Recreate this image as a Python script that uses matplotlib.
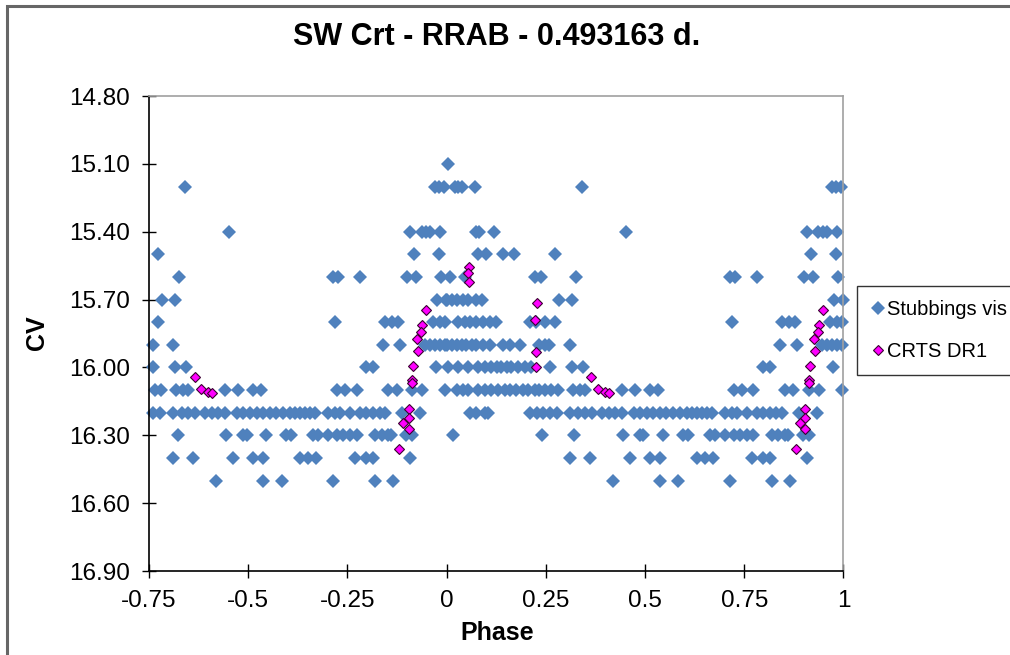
import numpy as np
import matplotlib
matplotlib.use("Agg")
import matplotlib.pyplot as plt
from matplotlib.patches import Rectangle

plt.rcParams['font.family'] = ['Liberation Sans', 'DejaVu Sans']

# Stubbings visual estimates, folded phase 0..1, one list per magnitude step
vis_1510 = [0.003]
vis_1520 = [0.021, 0.029, 0.040, 0.072, 0.342, 0.972, 0.982, 0.993]
vis_1540 = [0.075, 0.081, 0.119, 0.452, 0.908, 0.937, 0.948, 0.958, 0.983]
vis_1550 = [0.079, 0.100, 0.141, 0.171, 0.272, 0.918, 0.981]
vis_1560 = [0.008, 0.046, 0.222, 0.239, 0.326, 0.714, 0.727, 0.781, 0.901, 0.924, 0.987]
vis_1570 = [0.0, 0.013, 0.027, 0.042, 0.054, 0.074, 0.090, 0.282, 0.316, 0.975, 0.999]
vis_1580 = [0.029, 0.046, 0.059, 0.075, 0.092, 0.109, 0.124, 0.209, 0.226, 0.247,
            0.272, 0.719, 0.845, 0.862, 0.878, 0.966, 0.983, 0.996]
vis_1590 = [0.0, 0.013, 0.025, 0.038, 0.050, 0.063, 0.075, 0.092, 0.109, 0.142,
            0.159, 0.184, 0.234, 0.247, 0.259, 0.310, 0.840, 0.883, 0.945, 0.958,
            0.971, 0.983, 0.996]
vis_1600 = [0.004, 0.029, 0.054, 0.079, 0.096, 0.113, 0.126, 0.138, 0.151, 0.163,
            0.180, 0.197, 0.213, 0.260, 0.315, 0.344, 0.798, 0.815, 0.973]
vis_1610 = [0.025, 0.042, 0.054, 0.079, 0.096, 0.113, 0.130, 0.146, 0.159, 0.176,
            0.192, 0.205, 0.222, 0.234, 0.247, 0.264, 0.280, 0.319, 0.336, 0.349,
            0.441, 0.475, 0.512, 0.533, 0.723, 0.744, 0.773, 0.852, 0.874, 0.912,
            0.939, 0.996]
vis_1620 = [0.059, 0.075, 0.096, 0.105, 0.210, 0.227, 0.244, 0.260, 0.277, 0.311,
            0.332, 0.349, 0.366, 0.391, 0.408, 0.425, 0.441, 0.471, 0.487, 0.504,
            0.521, 0.538, 0.554, 0.571, 0.588, 0.605, 0.618, 0.630, 0.643, 0.656,
            0.668, 0.702, 0.719, 0.731, 0.756, 0.781, 0.798, 0.815, 0.831, 0.844,
            0.887, 0.933]
vis_1630 = [0.017, 0.240, 0.322, 0.445, 0.487, 0.496, 0.546, 0.596, 0.609, 0.664,
            0.677, 0.702, 0.723, 0.739, 0.756, 0.773, 0.819, 0.836, 0.853, 0.861,
            0.897, 0.912]
vis_1640 = [0.311, 0.361, 0.462, 0.512, 0.538, 0.630, 0.651, 0.672, 0.769, 0.798,
            0.815, 0.908]
vis_1650 = [0.420, 0.538, 0.584, 0.714, 0.819, 0.865]

vis_mags = [15.1, 15.2, 15.4, 15.5, 15.6, 15.7, 15.8, 15.9, 16.0, 16.1, 16.2, 16.3, 16.4, 16.5]
vis_rows = [vis_1510, vis_1520, vis_1540, vis_1550, vis_1560, vis_1570, vis_1580,
            vis_1590, vis_1600, vis_1610, vis_1620, vis_1630, vis_1640, vis_1650]

# CRTS DR1 photometry
crts_phase = [0.056, 0.055, 0.056, 0.229, 0.222, 0.225, 0.225, 0.365, 0.382, 0.399,
              0.410, 0.949, 0.938, 0.936, 0.925, 0.928, 0.916, 0.912, 0.912, 0.904,
              0.904, 0.891, 0.904, 0.880]
crts_mag = [15.555, 15.582, 15.622, 15.715, 15.788, 15.931, 15.998, 16.042, 16.096, 16.110,
            16.112, 15.744, 15.813, 15.843, 15.872, 15.927, 15.995, 16.057, 16.069, 16.185,
            16.223, 16.246, 16.270, 16.362]

yticks = [14.8, 15.1, 15.4, 15.7, 16.0, 16.3, 16.6, 16.9]
xticks = [-0.75, -0.5, -0.25, 0, 0.25, 0.5, 0.75, 1]
xticklabels = ['-0.75', '-0.5', '-0.25', '0', '0.25', '0.5', '0.75', '1']


def unfold(ph, mag):
    # phase plot runs -0.75..1, so phases >= 0.25 show up again one cycle earlier
    ph = np.asarray(ph, dtype=float)
    mag = np.asarray(mag, dtype=float)
    m = ph >= 0.25
    return np.concatenate([ph, ph[m] - 1]), np.concatenate([mag, mag[m]])


vis_ph = np.concatenate([np.asarray(r) for r in vis_rows])
vis_mg = np.concatenate([np.full(len(r), m) for r, m in zip(vis_rows, vis_mags)])
vx, vy = unfold(vis_ph, vis_mg)
cx, cy = unfold(crts_phase, crts_mag)

fig = plt.figure(figsize=(10.1, 6.55), dpi=100)
ax = fig.add_axes([0.1475, 0.1282, 0.6876, 0.7252])

ax.plot(vx, vy, linestyle='none', marker='D', ms=6.7, color='#4F81BD',
        markeredgewidth=0, clip_on=False, label='Stubbings vis')
ax.plot(cx, cy, linestyle='none', marker='D', ms=5.4, color='#FF00FF',
        markeredgecolor='#3a0030', markeredgewidth=0.8, clip_on=False, label='CRTS DR1')

ax.set_xlim(-0.75, 1)
ax.set_ylim(16.9, 14.8)
ax.set_xticks(xticks)
ax.set_xticklabels(xticklabels)
ax.set_yticks(yticks)
ax.set_yticklabels(['%.2f' % v for v in yticks])
ax.tick_params(direction='inout', length=9.5, width=1, labelsize=17.5, colors='black')
ax.tick_params(axis='y', pad=9)
ax.tick_params(axis='x', pad=9)

for s in ['top', 'right']:
    ax.spines[s].set_color('#a0a0a0')
    ax.spines[s].set_linewidth(1.2)
for s in ['left', 'bottom']:
    ax.spines[s].set_color('black')
    ax.spines[s].set_linewidth(1.2)

fig.text(0.492, 0.943, 'SW Crt - RRAB - 0.493163 d.', ha='center', va='center',
         fontsize=22, fontweight='bold')
fig.text(0.037, 0.492, 'CV', ha='center', va='center', rotation=90,
         fontsize=18, fontweight='bold')
fig.text(0.492, 0.034, 'Phase', ha='center', va='center', fontsize=18, fontweight='bold')

leg = fig.legend(loc='center left', bbox_to_anchor=(0.849, 0.4954), fontsize=14.5,
                 frameon=True, fancybox=False, edgecolor='black', handlelength=0.6,
                 handletextpad=0.15, borderpad=0.7, labelspacing=1.1, borderaxespad=0)
leg.get_frame().set_linewidth(1.0)

# outer chart frame (cut off at right and bottom)
fig.patches.append(Rectangle((0.0074, -0.5), 2.0, 0.9908 + 0.5, transform=fig.transFigure,
                             fill=False, edgecolor='#666666', linewidth=2.2))

fig.savefig('out.png', dpi=100)
